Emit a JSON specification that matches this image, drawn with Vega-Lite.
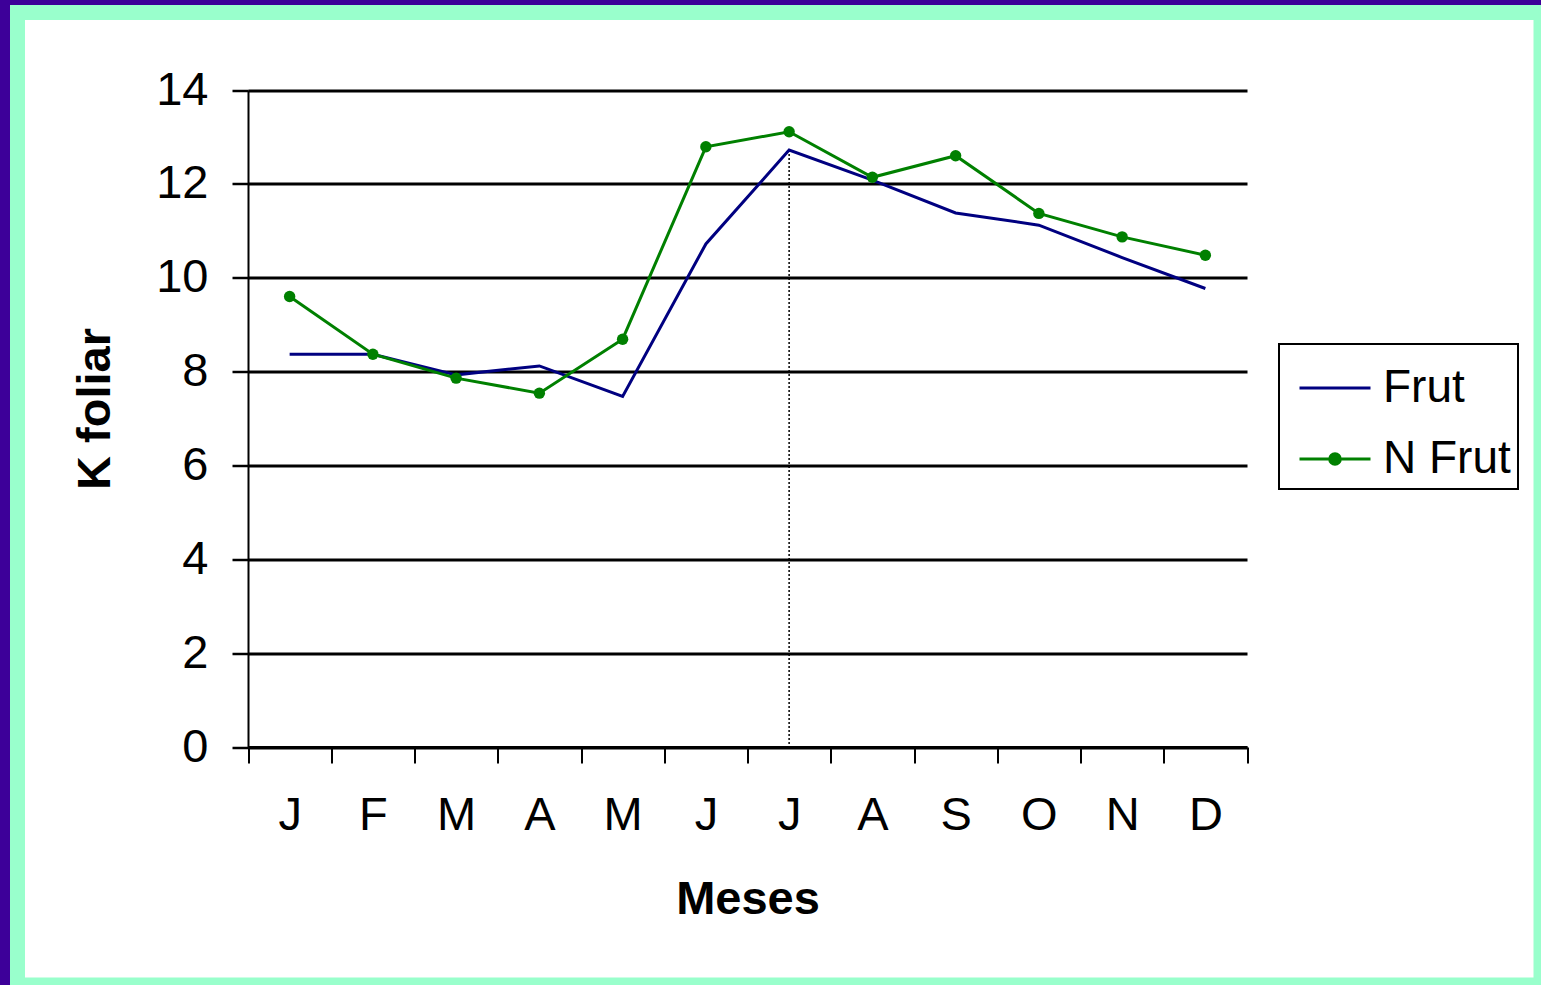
{
  "$schema": "https://vega.github.io/schema/vega-lite/v6.json",
  "width": 1523.5,
  "height": 972.5,
  "autosize": {"type": "none"},
  "padding": {"left": 17.5, "top": 12.5, "right": 0, "bottom": 0},
  "background": "#3d0099",
  "config": {
    "view": {"fill": "white", "stroke": "#99ffcc", "strokeWidth": 15},
    "font": "Liberation Sans"
  },
  "data": {
    "values": [
      {"mes": "Jan", "serie": "Frut", "valor": 8.37},
      {"mes": "Feb", "serie": "Frut", "valor": 8.37},
      {"mes": "Mar", "serie": "Frut", "valor": 7.93},
      {"mes": "Apr", "serie": "Frut", "valor": 8.12},
      {"mes": "May", "serie": "Frut", "valor": 7.47},
      {"mes": "Jun", "serie": "Frut", "valor": 10.72},
      {"mes": "Jul", "serie": "Frut", "valor": 12.72},
      {"mes": "Aug", "serie": "Frut", "valor": 12.08},
      {"mes": "Sep", "serie": "Frut", "valor": 11.38},
      {"mes": "Oct", "serie": "Frut", "valor": 11.12},
      {"mes": "Nov", "serie": "Frut", "valor": 10.43},
      {"mes": "Dec", "serie": "Frut", "valor": 9.77},
      {"mes": "Jan", "serie": "N Frut", "valor": 9.6},
      {"mes": "Feb", "serie": "N Frut", "valor": 8.37},
      {"mes": "Mar", "serie": "N Frut", "valor": 7.86},
      {"mes": "Apr", "serie": "N Frut", "valor": 7.54},
      {"mes": "May", "serie": "N Frut", "valor": 8.69},
      {"mes": "Jun", "serie": "N Frut", "valor": 12.79},
      {"mes": "Jul", "serie": "N Frut", "valor": 13.11},
      {"mes": "Aug", "serie": "N Frut", "valor": 12.14},
      {"mes": "Sep", "serie": "N Frut", "valor": 12.6},
      {"mes": "Oct", "serie": "N Frut", "valor": 11.37},
      {"mes": "Nov", "serie": "N Frut", "valor": 10.87},
      {"mes": "Dec", "serie": "N Frut", "valor": 10.48}
    ]
  },
  "encoding": {
    "x": {
      "field": "mes",
      "type": "ordinal",
      "sort": ["Jan", "Feb", "Mar", "Apr", "May", "Jun", "Jul", "Aug", "Sep", "Oct", "Nov", "Dec"],
      "bandPosition": 0.5,
      "scale": {"type": "band", "paddingInner": 0, "paddingOuter": 0, "range": [230.5, 1229.5]},
      "axis": {
        "title": "Meses",
        "labelExpr": "substring(datum.label, 0, 1)",
        "tickBand": "extent",
        "labelAngle": 0,
        "labelOverlap": false,
        "labelFontSize": 47,
        "labelColor": "black",
        "labelPadding": 29,
        "tickSize": 16,
        "tickWidth": 2,
        "tickColor": "black",
        "domainColor": "black",
        "domainWidth": 3,
        "titleFontSize": 47,
        "titleFontWeight": "bold",
        "titleColor": "black",
        "titlePadding": 38,
        "offset": -238,
        "grid": false
      }
    },
    "y": {
      "field": "valor",
      "type": "quantitative",
      "scale": {"domain": [0, 14], "range": [734.5, 77.5], "nice": false},
      "axis": {
        "title": "K foliar",
        "values": [0, 2, 4, 6, 8, 10, 12, 14],
        "grid": true,
        "gridColor": "black",
        "gridWidth": 3,
        "gridOpacity": 1,
        "tickSize": 16,
        "tickWidth": 2.5,
        "tickColor": "black",
        "domainColor": "black",
        "domainWidth": 2,
        "labelFontSize": 47,
        "labelColor": "black",
        "labelPadding": 24,
        "titleFontSize": 47,
        "titleFontWeight": "bold",
        "titleColor": "black",
        "titlePadding": 36,
        "titleY": 396,
        "offset": -230.5
      }
    }
  },
  "layer": [
    {
      "transform": [{"filter": "datum.mes === 'Jul' && datum.serie === 'Frut'"}],
      "mark": {"type": "rule", "color": "black", "strokeWidth": 1.5, "strokeDash": [2, 2]},
      "encoding": {"y2": {"datum": 0}}
    },
    {
      "mark": {"type": "line", "strokeWidth": 3},
      "encoding": {
        "color": {
          "field": "serie",
          "type": "nominal",
          "scale": {"domain": ["Frut", "N Frut"], "range": ["#000080", "#008000"]},
          "legend": {
            "title": null,
            "orient": "none",
            "legendX": 1261.5,
            "legendY": 331.5,
            "padding": 7,
            "labelFont": "Liberation Sans",
            "labelFontSize": 46,
            "labelColor": "black",
            "labelOffset": 11,
            "labelExpr": "datum.label + '\u00a0'",
            "symbolSize": 5041,
            "symbolOffset": 12,
            "symbolStrokeWidth": 3,
            "rowPadding": 11,
            "strokeColor": "black",
            "encode": {
              "legend": {"update": {"stroke": {"value": "black"}, "strokeWidth": {"value": 2}}},
              "symbols": {
                "update": {
                  "shape": {"signal": "datum.value === 'N Frut' ? 'M-1,0H1M-0.15,0A0.15,0.15 0 1,0 0.15,0A0.15,0.15 0 1,0 -0.15,0Z' : 'M-1,0H1'"},
                  "fill": {"signal": "scale('color', datum.value)"},
                  "stroke": {"signal": "scale('color', datum.value)"},
                  "strokeWidth": {"value": 3},
                  "opacity": {"value": 1}
                }
              }
            }
          }
        }
      }
    },
    {
      "transform": [{"filter": "datum.serie === 'N Frut'"}],
      "mark": {"type": "point", "filled": true, "color": "#008000", "size": 130, "opacity": 1}
    }
  ]
}
